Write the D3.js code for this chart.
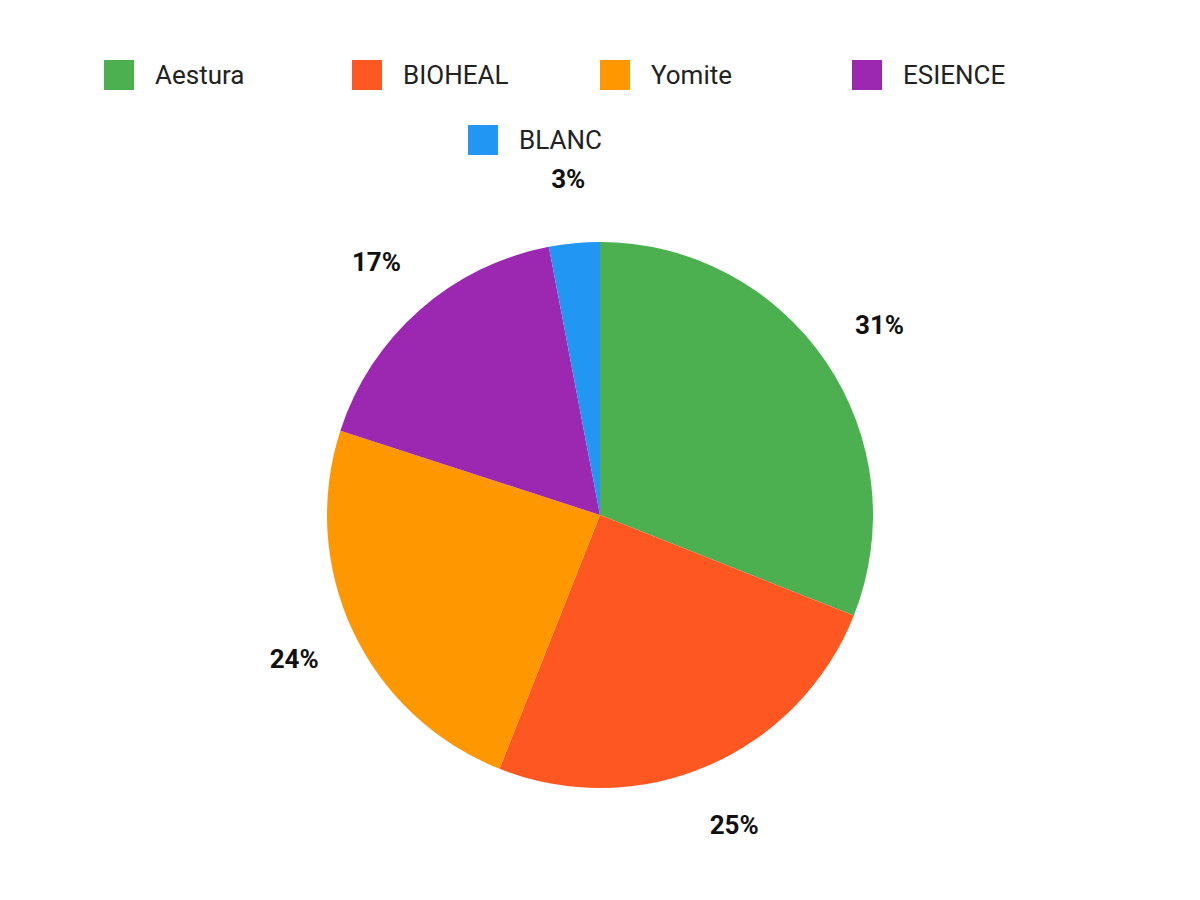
<!DOCTYPE html>
<html><head><meta charset="utf-8">
<script src="https://cdn.jsdelivr.net/npm/d3@7"></script>
<style>body{margin:0;background:#fff}</style>
</head><body>
<svg id="chart" width="1200" height="900"></svg>
<script>
var categories = ['Aestura', 'BIOHEAL', 'Yomite', 'ESIENCE', 'BLANC'];
var values = [31, 25, 24, 17, 3];
var colors = ['#4caf50', '#ff5722', '#ff9800', '#9c27b0', '#2196f3'];

var svg = d3.select('#chart');
var cx = 600, cy = 515, r = 273;

// 凡例
var legendPos = [[104, 75], [352, 75], [600, 75], [852, 75], [468, 140]];
var lg = svg.selectAll('g.legend').data(categories).enter()
	.append('g').attr('class', 'legend')
	.attr('transform', function(d, i){ return 'translate(' + legendPos[i][0] + ',' + legendPos[i][1] + ')'; });
lg.append('rect').attr('x', 0).attr('y', -15).attr('width', 30).attr('height', 30)
	.attr('fill', function(d, i){ return colors[i]; });
lg.append('text').attr('x', 51).attr('y', 9)
	.style('font-family', 'Roboto').style('font-size', '26px').attr('fill', '#222')
	.text(function(d){ return d; });

// パイ
var pie = d3.pie().sort(null).value(function(d){ return d; });
var arcs = pie(values);
var arc = d3.arc().innerRadius(0).outerRadius(r);
var labelArc = d3.arc().innerRadius(338).outerRadius(338);
var g = svg.append('g').attr('transform', 'translate(' + cx + ',' + cy + ')');
g.selectAll('path').data(arcs).enter().append('path')
	.attr('d', arc).attr('fill', function(d, i){ return colors[i]; });
g.selectAll('text').data(arcs).enter().append('text')
	.attr('transform', function(d){ return 'translate(' + labelArc.centroid(d) + ')'; })
	.attr('text-anchor', 'middle').attr('dy', '0.35em')
	.style('font-family', 'Roboto').style('font-size', '26px').style('font-weight', 'bold')
	.attr('fill', '#111')
	.text(function(d){ return d.data + '%'; });
</script>
</body></html>
